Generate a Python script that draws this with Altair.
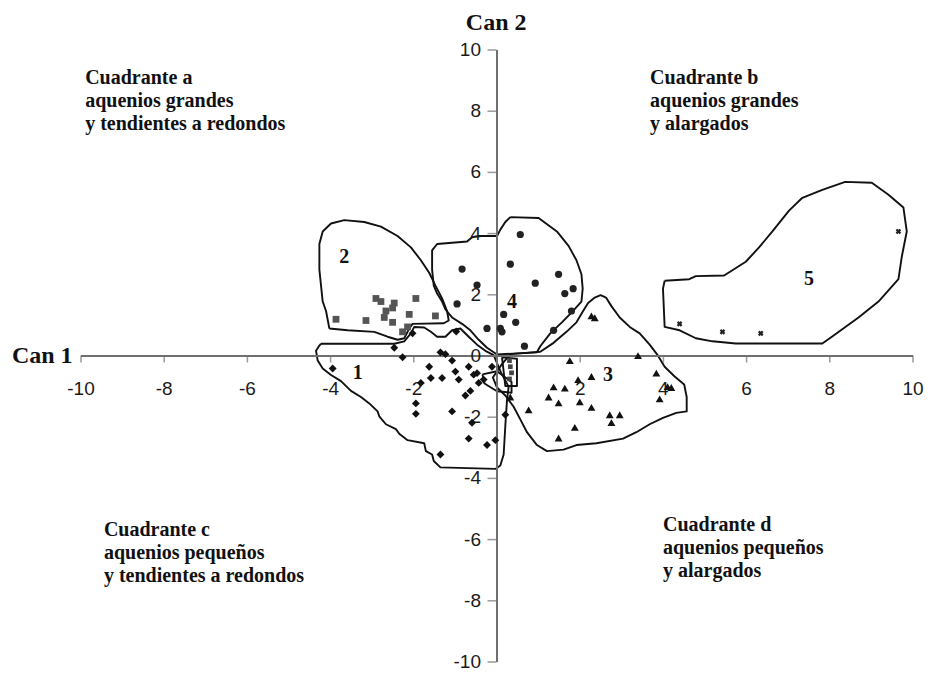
import altair as alt
import pandas as pd

# ---------------- data ----------------
g1_x = [-3.95, -2.47, -2.27, -2.03, -1.36, -1.24, -1.08, -1.63, -1.59, -1.32, -1.83, -1.00, -0.92, -0.68,
        -0.56, -0.44, -0.76, -0.64, -1.95, -1.95, -1.08, -0.60, -0.68, -0.24, -0.04, -1.36, 0.20, -0.98,
        -0.48, -0.32, -0.12]
g1_y = [-0.41, 0.27, -0.04, 0.74, 0.12, 0.06, -0.15, -0.35, -0.72, -0.72, -0.88, -0.51, -0.77, -0.35,
        -0.61, -0.88, -1.29, -1.14, -1.55, -1.89, -1.81, -2.18, -2.70, -2.91, -2.75, -3.22, -1.92, 0.80,
        -0.56, -0.77, -0.35]

g2_x = [-2.91, -2.79, -2.47, -2.51, -2.67, -2.71, -2.51, -2.11, -1.95, -3.87, -3.15, -2.27, -1.48, -2.15]
g2_y = [1.88, 1.78, 1.73, 1.57, 1.47, 1.26, 1.10, 1.36, 1.88, 1.20, 1.16, 0.79, 1.31, 0.95]

g3_x = [1.75, 3.39, 2.27, 2.35, 3.83, 4.19, 4.10, 3.91, 2.27, 1.95, 1.36, 1.63, 1.24, 1.48, 1.99, 2.27,
        0.76, 2.71, 2.95, 2.75, 1.87, 1.48, 0.32]
g3_y = [-0.15, 0.01, 1.31, 1.25, -0.56, -1.03, -1.00, -1.40, -0.67, -0.77, -1.01, -1.05, -1.34, -1.53,
        -1.50, -1.68, -1.76, -1.92, -1.92, -2.18, -2.33, -2.68, -1.34]

g4_x = [0.56, 0.32, 1.48, 0.92, 1.83, 1.63, 1.79, 0.16, 0.45, -0.24, 0.08, 0.12, 1.36, 0.66, -0.84, -0.48, -0.96]
g4_y = [3.97, 3.00, 2.67, 2.38, 2.20, 2.04, 1.47, 1.36, 1.10, 0.90, 0.90, 0.79, 0.84, 0.32, 2.84, 2.32, 1.70]

g5_x = [9.65, 4.39, 5.42, 6.34]
g5_y = [4.07, 1.05, 0.79, 0.74]

g6_x = [0.30, 0.32, 0.35, 0.30]
g6_y = [-0.15, -0.35, -0.55, -0.75]

poly1_x = [-4.23, -2.47, -2.23, -2.07, -1.99, -1.75, -1.59, -1.44, -1.24, -1.08, -0.88, -0.68, -0.48, -0.28,
           -0.08, 0.10, 0.28, 0.24, 0.20, 0.16, 0.08, -0.04, -1.36, -1.52, -1.56, -1.71, -1.75, -2.15, -2.35,
           -2.43, -2.67, -2.83, -2.87, -3.07, -3.27, -3.51, -3.75, -3.99, -4.19, -4.31, -4.35, -4.27, -4.23]
poly1_y = [0.40, 0.40, 0.48, 0.74, 0.95, 0.93, 0.79, 0.63, 0.63, 0.84, 0.90, 0.63, 0.37, 0.17,
           0.03, -0.55, -1.00, -1.45, -2.28, -3.22, -3.58, -3.69, -3.64, -3.43, -3.22, -3.11, -2.85, -2.75, -2.54,
           -2.39, -2.23, -1.97, -1.81, -1.55, -1.34, -1.14, -0.82, -0.62, -0.41, -0.15, 0.17, 0.34, 0.40]

poly2_x = [-4.03, -4.11, -4.19, -4.23, -4.27, -4.27, -4.19, -3.99, -3.67, -3.19, -2.79, -2.39, -2.07, -1.83,
           -1.63, -1.48, -1.32, -1.20, -1.16, -1.28, -2.03, -2.11, -2.23, -2.39, -2.63, -2.95, -3.59, -4.03]
poly2_y = [0.90, 1.47, 1.78, 2.30, 2.82, 3.66, 4.07, 4.33, 4.44, 4.38, 4.23, 3.92, 3.55, 3.13,
           2.72, 2.30, 1.88, 1.47, 1.16, 1.07, 1.05, 0.90, 0.58, 0.53, 0.63, 0.79, 0.84, 0.90]

poly3_x = [0.32, 1.04, 1.36, 1.67, 1.91, 2.07, 2.19, 2.35, 2.49, 2.62, 2.75, 2.95, 3.19, 3.43, 3.67, 3.87,
           4.03, 4.27, 4.50, 4.56, 4.56, 4.31, 3.99, 3.67, 3.35, 3.03, 2.39, 1.91, 1.60, 1.20, 0.96, 0.72,
           0.56, 0.40, 0.20, 0.00, -0.10, 0.10, 0.32]
poly3_y = [0.06, 0.14, 0.43, 0.79, 1.10, 1.47, 1.73, 1.91, 1.99, 1.91, 1.63, 1.26, 0.95, 0.74, 0.37, 0.01,
           -0.35, -0.67, -0.93, -1.34, -1.81, -1.86, -2.02, -2.23, -2.49, -2.70, -2.85, -2.91, -3.06, -3.11, -2.91, -2.49,
           -2.07, -1.66, -1.29, -1.03, -0.70, -0.30, 0.06]

poly4_x = [0.32, 1.00, 1.44, 1.72, 1.91, 2.03, 2.06, 2.03, 1.79, 1.56, 1.28, 1.04, 0.96, 0.00, -0.24, -0.44,
           -0.64, -0.84, -1.08, -1.24, -1.32, -1.44, -1.52, -1.56, -1.56, -1.44, -0.72, -0.60, -0.44, 0.00,
           0.08, 0.20, 0.32]
poly4_y = [4.54, 4.51, 4.07, 3.60, 3.13, 2.67, 2.20, 1.78, 1.42, 1.10, 0.74, 0.32, 0.12, 0.05, 0.27, 0.53,
           0.84, 1.05, 1.26, 1.52, 1.78, 2.04, 2.30, 2.82, 3.45, 3.66, 3.74, 3.88, 3.92, 3.92,
           4.13, 4.38, 4.54]

poly5_x = [4.03, 4.62, 4.78, 5.46, 5.98, 6.30, 6.62, 7.02, 7.34, 7.82, 8.37, 9.01, 9.41, 9.77, 9.85, 9.73,
           9.65, 9.17, 8.69, 8.05, 7.82, 5.74, 5.18, 4.78, 4.39, 4.03, 3.99, 4.03]
poly5_y = [2.46, 2.51, 2.61, 2.63, 3.08, 3.55, 4.07, 4.75, 5.17, 5.43, 5.69, 5.66, 5.27, 4.85, 4.07, 3.24,
           2.51, 1.78, 1.26, 0.63, 0.41, 0.41, 0.48, 0.58, 0.84, 0.95, 2.20, 2.46]

poly6_x = [0.12, 0.48, 0.48, 0.20, 0.12]
poly6_y = [-0.04, -0.09, -0.98, -0.98, -0.04]

poly7_x = [-0.35, 0.00, 0.35, 0.35, 0.00, -0.30, -0.35]
poly7_y = [-0.60, -0.50, -0.85, -1.20, -1.15, -0.90, -0.60]

x_tick_values = [-10, -8, -6, -4, -2, 2, 4, 6, 8, 10]
x_tick_labels = ["-10", "-8", "-6", "-4", "-2", "2", "4", "6", "8", "10"]
y_tick_values = [-10, -8, -6, -4, -2, 0, 2, 4, 6, 8, 10]
y_tick_labels = ["-10", "-8", "-6", "-4", "-2", "0", "2", "4", "6", "8", "10"]

group_names = ["1", "2", "3", "4", "5"]
group_label_x = [-3.35, -3.67, 2.67, 0.36, 7.50]
group_label_y = [-0.56, 3.24, -0.61, 1.78, 2.51]

quad_a = ["Cuadrante a", "aquenios grandes", "y tendientes a redondos"]
quad_b = ["Cuadrante b", "aquenios grandes", "y alargados"]
quad_c = ["Cuadrante c", "aquenios pequeños", "y tendientes a redondos"]
quad_d = ["Cuadrante d", "aquenios pequeños", "y alargados"]

# ---------------- build tables ----------------
polys = []
for name, xs_, ys_ in [("p1", poly1_x, poly1_y), ("p2", poly2_x, poly2_y), ("p3", poly3_x, poly3_y),
                       ("p4", poly4_x, poly4_y), ("p5", poly5_x, poly5_y), ("p6", poly6_x, poly6_y),
                       ("p7", poly7_x, poly7_y)]:
    for i, (a, b) in enumerate(zip(xs_, ys_)):
        polys.append({"poly": name, "i": i, "x": a, "y": b})
poly_df = pd.DataFrame(polys)

def pts(xv, yv):
    return pd.DataFrame({"x": xv, "y": yv})

xs = alt.Scale(domain=[-10, 10], nice=False, zero=False)
ys = alt.Scale(domain=[-10, 10], nice=False, zero=False)
X = lambda f="x": alt.X(f, type="quantitative", scale=xs, axis=None)
Y = lambda f="y": alt.Y(f, type="quantitative", scale=ys, axis=None)

AX_COL = "#6f6f6f"
SERIF = "Liberation Serif"
SANS = "Liberation Sans"

# axes
xaxis = alt.Chart(pd.DataFrame({"x": [-10], "x2": [10], "y": [0]})).mark_rule(
    color=AX_COL, strokeWidth=2).encode(x=X(), x2="x2", y=Y())
yaxis = alt.Chart(pd.DataFrame({"x": [0], "y": [-10], "y2": [10]})).mark_rule(
    color=AX_COL, strokeWidth=2).encode(x=X(), y=Y(), y2="y2")

xt_df = pd.DataFrame({"x": x_tick_values, "y": [0] * len(x_tick_values), "t": x_tick_labels})
yt_df = pd.DataFrame({"x": [0] * len(y_tick_values), "y": y_tick_values, "t": y_tick_labels})

xticks = alt.Chart(xt_df).mark_tick(orient="vertical", size=7, thickness=1.5, color=AX_COL,
                                     yOffset=3).encode(x=X(), y=Y())
yticks = alt.Chart(yt_df[yt_df["y"] != 0]).mark_tick(orient="horizontal", size=9, thickness=1.5,
                                                      color=AX_COL, xOffset=-5).encode(x=X(), y=Y())
xlabels = alt.Chart(xt_df).mark_text(font=SANS, fontSize=19, color="#1a1a1a", dy=33,
                                     baseline="middle", align="center").encode(x=X(), y=Y(), text="t:N")
ylabels = alt.Chart(yt_df).mark_text(font=SANS, fontSize=19, color="#1a1a1a", dx=-16,
                                     baseline="middle", align="right").encode(x=X(), y=Y(), text="t:N")

# polygons
outlines = alt.Chart(poly_df).mark_line(color="#111111", strokeWidth=1.9, strokeJoin="round").encode(
    x=X(), y=Y(), detail="poly:N", order="i:Q")

# points
p1 = alt.Chart(pts(g1_x, g1_y)).mark_point(shape="diamond", filled=True, size=62, color="#111111",
                                            opacity=1).encode(x=X(), y=Y())
p2 = alt.Chart(pts(g2_x, g2_y)).mark_point(shape="square", filled=True, size=46, color="#555555",
                                            opacity=1).encode(x=X(), y=Y())
p3 = alt.Chart(pts(g3_x, g3_y)).mark_point(shape="triangle-up", filled=True, size=62, color="#111111",
                                            opacity=1).encode(x=X(), y=Y())
p4 = alt.Chart(pts(g4_x, g4_y)).mark_point(shape="circle", filled=True, size=52, color="#222222",
                                            opacity=1).encode(x=X(), y=Y())
p5 = alt.Chart(pts(g5_x, g5_y)).mark_point(shape="cross", angle=45, filled=True, size=32, color="#222222",
                                            opacity=1).encode(x=X(), y=Y())
p6 = alt.Chart(pts(g6_x, g6_y)).mark_point(shape="square", filled=True, size=22, color="#444444",
                                            opacity=1).encode(x=X(), y=Y())

glabels = alt.Chart(pd.DataFrame({"x": group_label_x, "y": group_label_y, "t": group_names})).mark_text(
    font=SERIF, fontSize=20, fontWeight="bold", color="#111111", baseline="middle", align="center"
).encode(x=X(), y=Y(), text="t:N")

def block(lines, x0, y0):
    df = pd.DataFrame({"x": [x0] * len(lines), "y": [y0 - 0.752 * k for k in range(len(lines))], "t": lines})
    return alt.Chart(df).mark_text(font=SERIF, fontSize=20, fontWeight="bold", color="#111111",
                                   align="left", baseline="alphabetic").encode(x=X(), y=Y(), text="t:N")

qa = block(quad_a, -9.90, 8.89)
qb = block(quad_b, 3.68, 8.89)
qc = block(quad_c, -9.45, -5.88)
qd = block(quad_d, 3.99, -5.72)

can2 = alt.Chart(pd.DataFrame({"x": [-0.02], "y": [10.65], "t": ["Can 2"]})).mark_text(
    font=SERIF, fontSize=24, fontWeight="bold", color="#111111", align="center", baseline="alphabetic"
).encode(x=X(), y=Y(), text="t:N")
can1 = alt.Chart(pd.DataFrame({"x": [-11.66], "y": [0], "t": ["Can 1"]})).mark_text(
    font=SERIF, fontSize=24, fontWeight="bold", color="#111111", align="left", baseline="middle"
).encode(x=X(), y=Y(), text="t:N")

chart = alt.layer(
    outlines, xaxis, yaxis, xticks, yticks, xlabels, ylabels,
    p1, p2, p3, p4, p5, p6, glabels, qa, qb, qc, qd, can2, can1
).properties(
    width=832, height=612,
    padding={"left": 73, "top": 42, "right": 12, "bottom": 12},
    autosize=alt.AutoSizeParams(type="none"),
    background="white",
).configure_view(stroke=None)

chart.save("out.html", embed_options={"renderer": "svg", "actions": False})
